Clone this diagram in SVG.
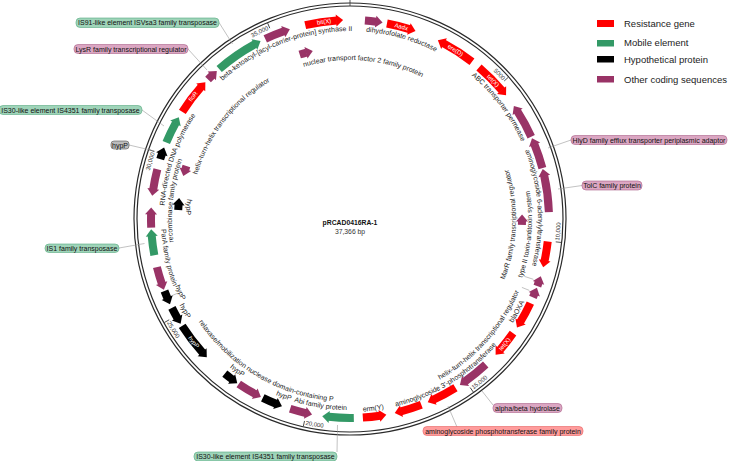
<svg xmlns="http://www.w3.org/2000/svg" width="729" height="461" viewBox="0 0 729 461">
<style>
.bd{fill:none;stroke-width:8}
.r{fill:#ff0000}.bd.r{fill:none;stroke:#ff0000}
.g{fill:#339966}.bd.g{fill:none;stroke:#339966}
.k{fill:#000}.bd.k{fill:none;stroke:#000}
.p{fill:#993366}.bd.p{fill:none;stroke:#993366}
text{font-family:"Liberation Sans",Arial,sans-serif}
.lbl{font-size:7px;fill:#222}
.in{font-size:6px;fill:#fff}
.tk{font-size:6px;fill:#333}
.cb{font-size:7px;fill:#111}
.lg{font-size:9.5px;fill:#222}
.cl{stroke:#999;stroke-width:0.6;fill:none}
.tick{stroke:#333;stroke-width:0.8}
.ring{fill:none;stroke:#2a2a2a;stroke-width:1.2}
.bg{fill:#9fd4b9;stroke:#55aa80;stroke-width:0.6}
.bp{fill:#dba6c2;stroke:#aa6088;stroke-width:0.6}
.br{fill:#ff9c9c;stroke:#e86060;stroke-width:0.6}
.bk{fill:#bdbdbd;stroke:#555;stroke-width:0.6}
</style>
<defs>
<path id="hc" d="M0,-205V-193L7,-199Z"/>
<path id="hw" d="M0,-205V-193L-7,-199Z"/>
<path id="ic" d="M0,-178V-166L7,-172Z"/>
<path id="iw" d="M0,-178V-166L-7,-172Z"/>
<path id="c159" d="M-156.58,-27.61A159,159 0 0 1 156.58,-27.61"/>
<path id="c178" d="M-175.29,-30.91A178,178 0 0 1 175.29,-30.91"/>
<path id="c186" d="M-183.17,-32.30A186,186 0 0 1 183.17,-32.30"/>
<path id="c188" d="M-185.14,-32.65A188,188 0 0 1 185.14,-32.65"/>
<path id="c197" d="M-194.01,-34.21A197,197 0 0 1 194.01,-34.21"/>
<path id="c206" d="M-202.87,-35.77A206,206 0 0 1 202.87,-35.77"/>
<path id="w164" d="M-161.51,28.48A164,164 0 0 0 161.51,28.48"/>
<path id="w166" d="M-163.48,28.83A166,166 0 0 0 163.48,28.83"/>
<path id="w182" d="M-179.23,31.60A182,182 0 0 0 179.23,31.60"/>
<path id="w183" d="M-180.22,31.78A183,183 0 0 0 180.22,31.78"/>
<path id="w184" d="M-181.20,31.95A184,184 0 0 0 181.20,31.95"/>
<path id="w187" d="M-184.16,32.47A187,187 0 0 0 184.16,32.47"/>
<path id="w189" d="M-186.13,32.82A189,189 0 0 0 186.13,32.82"/>
<path id="w191" d="M-188.10,33.17A191,191 0 0 0 188.10,33.17"/>
<path id="w193" d="M-190.07,33.51A193,193 0 0 0 190.07,33.51"/>
<path id="w201" d="M-197.94,34.90A201,201 0 0 0 197.94,34.90"/>
<path id="w210" d="M-207.30,36.55A210.5,210.5 0 0 0 207.30,36.55"/>
</defs>
<rect width="729" height="461" fill="#fff"/>

<g id="backbone" transform="translate(350,219)">
<circle class="ring" r="216"/>
<circle class="ring" r="213"/>
<line class="tick" y1="-213" y2="-219"/>
<g transform="rotate(48.17)"><line class="tick" y1="-207" y2="-212.5"/><text class="tk" text-anchor="end"><textPath href="#c206" startOffset="286.1">5000</textPath></text></g>
<g transform="rotate(96.34)"><line class="tick" y1="-207" y2="-212.5"/></g>
<g transform="rotate(-83.66)"><text class="tk"><textPath href="#w210" startOffset="295.4">10,000</textPath></text></g>
<g transform="rotate(144.52)"><line class="tick" y1="-207" y2="-212.5"/></g>
<g transform="rotate(-35.48)"><text class="tk"><textPath href="#w210" startOffset="295.4">15,000</textPath></text></g>
<g transform="rotate(192.69)"><line class="tick" y1="-207" y2="-212.5"/></g>
<g transform="rotate(12.69)"><text class="tk"><textPath href="#w210" startOffset="295.4">20,000</textPath></text></g>
<g transform="rotate(240.86)"><line class="tick" y1="-207" y2="-212.5"/></g>
<g transform="rotate(60.86)"><text class="tk"><textPath href="#w210" startOffset="295.4">25,000</textPath></text></g>
<g transform="rotate(289.03)"><line class="tick" y1="-207" y2="-212.5"/><text class="tk" text-anchor="end"><textPath href="#c206" startOffset="286.1">30,000</textPath></text></g>
<g transform="rotate(337.2)"><line class="tick" y1="-207" y2="-212.5"/><text class="tk" text-anchor="end"><textPath href="#c206" startOffset="286.1">35,000</textPath></text></g>
</g>

<g id="connectors">
<polyline class="cl" points="219,22.5 232.5,44"/>
<polyline class="cl" points="188,49 207,70"/>
<polyline class="cl" points="142,110 164,126"/>
<polyline class="cl" points="129,145 154.5,151"/>
<polyline class="cl" points="119,248 144.5,243.5"/>
<polyline class="cl" points="337,452 337.5,425"/>
<polyline class="cl" points="493,405 482,391"/>
<polyline class="cl" points="457,427 448,406"/>
<polyline class="cl" points="571,140 548,148"/>
<polyline class="cl" points="582,185.5 558,189"/>
<polyline class="cl" points="524.8,276.5 533.4,279.3"/>
<polyline class="cl" points="521.9,287.4 529.3,290.4"/>
<polyline class="cl" points="172.7,295.3 177.3,293.4"/>
</g>

<g id="features" transform="translate(350,219)">
<g id="f-bitX"><circle class="bd r" r="199" stroke-dasharray="31.95 2000" transform="rotate(257)"/><use href="#hc" class="r" transform="rotate(356)"/><g transform="rotate(352.5)"><text class="in" text-anchor="middle"><textPath href="#c197" startOffset="50%">bit(X)</textPath></text></g></g>
<g id="f-dhfr"><circle class="bd p" r="199" stroke-dasharray="11.46 2000" transform="rotate(-85.7)"/><use href="#hc" class="p" transform="rotate(7.4)"/><g transform="rotate(16)"><text class="lbl" text-anchor="middle"><textPath href="#c188" startOffset="50%">dihydrofolate reductase</textPath></text></g></g>
<g id="f-aadx"><circle class="bd r" r="199" stroke-dasharray="23.27 2000" transform="rotate(-79.3)"/><use href="#hc" class="r" transform="rotate(17.2)"/><g transform="rotate(14.95)"><text class="in" text-anchor="middle"><textPath href="#c197" startOffset="50%">Aadx</textPath></text></g></g>
<g id="f-ereD"><circle class="bd r" r="199" stroke-dasharray="34.04 2000" transform="rotate(-62)"/><use href="#hw" class="r" transform="rotate(28.2)"/><g transform="rotate(32)"><text class="in" text-anchor="middle"><textPath href="#c197" startOffset="50%">ere(D)</textPath></text></g></g>
<g id="f-tetX1"><circle class="bd r" r="199" stroke-dasharray="32.65 2000" transform="rotate(-49.6)"/><use href="#hc" class="r" transform="rotate(49.6)"/><g transform="rotate(46)"><text class="in" text-anchor="middle"><textPath href="#c197" startOffset="50%">tet(X)</textPath></text></g></g>
<g id="f-abc"><circle class="bd p" r="199" stroke-dasharray="29.17 2000" transform="rotate(-32.8)"/><use href="#hw" class="p" transform="rotate(57.4)"/><g transform="rotate(53)"><text class="lbl" text-anchor="middle"><textPath href="#c188" startOffset="50%">ABC transporter permease</textPath></text></g></g>
<g id="f-hlyd"><circle class="bd p" r="199" stroke-dasharray="25.35 2000" transform="rotate(-22.1)"/><use href="#hw" class="p" transform="rotate(68.1)"/></g>
<g id="f-tolc"><circle class="bd p" r="199" stroke-dasharray="37.16 2000" transform="rotate(-12.7)"/><use href="#hw" class="p" transform="rotate(77.5)"/></g>
<g id="f-aadA"><circle class="bd r" r="199" stroke-dasharray="19.80 2000" transform="rotate(6.5)"/><use href="#hc" class="r" transform="rotate(102)"/><g transform="rotate(86.5)"><text class="lbl" text-anchor="middle"><textPath href="#c188" startOffset="50%">aminoglycoside 6-adenylyltransferase</textPath></text></g></g>
<g id="f-marR"><circle class="bd p" r="172" stroke-dasharray="4.11 2000" transform="rotate(0.63)"/><use href="#iw" class="p" transform="rotate(90.83)"/><g transform="rotate(-88)"><text class="lbl" text-anchor="middle"><textPath href="#w166" startOffset="50%">MarR family transcriptional regulator</textPath></text></g></g>
<g id="f-ta"><circle class="bd p" r="199" stroke-dasharray="4.17 2000" transform="rotate(18.5)"/><use href="#hw" class="p" transform="rotate(108.7)"/><g transform="rotate(-85)"><text class="lbl" text-anchor="middle"><textPath href="#w182" startOffset="50%">type II toxin-antitoxin system</textPath></text></g></g>
<g id="f-hth2"><circle class="bd p" r="199" stroke-dasharray="4.17 2000" transform="rotate(22)"/><use href="#hw" class="p" transform="rotate(112.2)"/><g transform="rotate(-48)"><text class="lbl" text-anchor="middle"><textPath href="#w184" startOffset="50%">helix-turn-helix transcriptional regulator</textPath></text></g></g>
<g id="f-bla"><circle class="bd r" r="199" stroke-dasharray="21.53 2000" transform="rotate(25)"/><use href="#hc" class="r" transform="rotate(121)"/><g transform="rotate(-61)"><text class="lbl" text-anchor="middle"><textPath href="#w193" startOffset="50%">blaOXA</textPath></text></g></g>
<g id="f-tetX2"><circle class="bd r" r="199" stroke-dasharray="21.53 2000" transform="rotate(35)"/><use href="#hc" class="r" transform="rotate(131)"/><g transform="rotate(-51)"><text class="in" text-anchor="middle"><textPath href="#w201" startOffset="50%">tet(X)</textPath></text></g></g>
<g id="f-ab"><circle class="bd p" r="199" stroke-dasharray="26.74 2000" transform="rotate(47)"/><use href="#hc" class="p" transform="rotate(144.5)"/></g>
<g id="f-aph"><circle class="bd r" r="199" stroke-dasharray="25.01 2000" transform="rotate(58)"/><use href="#hc" class="r" transform="rotate(155)"/></g>
<g id="f-aph3"><circle class="bd r" r="199" stroke-dasharray="21.53 2000" transform="rotate(69)"/><use href="#hc" class="r" transform="rotate(165)"/><g transform="rotate(-31.5)"><text class="lbl" text-anchor="middle"><textPath href="#w193" startOffset="50%">aminoglycoside 3'-phosphotransferase</textPath></text></g></g>
<g id="f-ermY"><circle class="bd r" r="199" stroke-dasharray="17.37 2000" transform="rotate(81.3)"/><use href="#hw" class="r" transform="rotate(171.5)"/><g transform="rotate(-7)"><text class="lbl" text-anchor="middle"><textPath href="#w193" startOffset="50%">erm(Y)</textPath></text></g></g>
<g id="f-is30b"><circle class="bd g" r="199" stroke-dasharray="25.35 2000" transform="rotate(88.9)"/><use href="#hc" class="g" transform="rotate(186)"/></g>
<g id="f-abi"><circle class="bd p" r="199" stroke-dasharray="16.32 2000" transform="rotate(102.8)"/><use href="#hw" class="p" transform="rotate(193)"/><g transform="rotate(9)"><text class="lbl" text-anchor="middle"><textPath href="#w191" startOffset="50%">Abi family protein</textPath></text></g></g>
<g id="f-hyp1"><circle class="bd k" r="199" stroke-dasharray="14.59 2000" transform="rotate(111.8)"/><use href="#hw" class="k" transform="rotate(202)"/><g transform="rotate(20.5)"><text class="lbl" text-anchor="middle"><textPath href="#w191" startOffset="50%">hypP</textPath></text></g></g>
<g id="f-relax"><circle class="bd p" r="199" stroke-dasharray="19.45 2000" transform="rotate(118.4)"/><use href="#hw" class="p" transform="rotate(208.6)"/><g transform="rotate(30.5)"><text class="lbl" text-anchor="middle"><textPath href="#w183" startOffset="50%">relaxase/mobilization nuclease domain-containing P</textPath></text></g></g>
<g id="f-hyp2"><circle class="bd k" r="199" stroke-dasharray="9.38 2000" transform="rotate(126.3)"/><use href="#hw" class="k" transform="rotate(216.5)"/><g transform="rotate(36.6)"><text class="lbl" text-anchor="middle"><textPath href="#w191" startOffset="50%">hypP</textPath></text></g></g>
<g id="f-hyp3"><circle class="bd k" r="199" stroke-dasharray="33.69 2000" transform="rotate(137.8)"/><use href="#hw" class="k" transform="rotate(228)"/><g transform="rotate(51.75)"><text class="in" text-anchor="middle"><textPath href="#w201" startOffset="50%">hypP</textPath></text></g></g>
<g id="f-hyp4"><circle class="bd k" r="199" stroke-dasharray="11.81 2000" transform="rotate(150.1)"/><use href="#hw" class="k" transform="rotate(240.3)"/><g transform="rotate(60.9)"><text class="lbl" text-anchor="middle"><textPath href="#w191" startOffset="50%">hypP</textPath></text></g></g>
<g id="f-hyp5"><circle class="bd k" r="199" stroke-dasharray="7.99 2000" transform="rotate(156.5)"/><use href="#hw" class="k" transform="rotate(246.7)"/><g transform="rotate(66.6)"><text class="lbl" text-anchor="middle"><textPath href="#w187" startOffset="50%">hypP</textPath></text></g></g>
<g id="f-para"><circle class="bd p" r="199" stroke-dasharray="17.37 2000" transform="rotate(161)"/><use href="#hw" class="p" transform="rotate(251.2)"/><g transform="rotate(78)"><text class="lbl" text-anchor="middle"><textPath href="#w189" startOffset="50%">ParA family protein</textPath></text></g></g>
<g id="f-is1"><circle class="bd g" r="199" stroke-dasharray="19.80 2000" transform="rotate(169.5)"/><use href="#hc" class="g" transform="rotate(265)"/></g>
<g id="f-recomb"><circle class="bd p" r="199" stroke-dasharray="13.89 2000" transform="rotate(177.5)"/><use href="#hc" class="p" transform="rotate(271.3)"/><g transform="rotate(276)"><text class="lbl" text-anchor="middle"><textPath href="#c178" startOffset="50%">recombinase family protein</textPath></text></g></g>
<g id="f-hypi"><circle class="bd k" r="172" stroke-dasharray="5.61 2000" transform="rotate(183)"/><use href="#ic" class="k" transform="rotate(274.67)"/><g transform="rotate(94.2)"><text class="lbl" text-anchor="middle"><textPath href="#w164" startOffset="50%">hypP</textPath></text></g></g>
<g id="f-rna"><circle class="bd p" r="199" stroke-dasharray="20.84 2000" transform="rotate(188.5)"/><use href="#hw" class="p" transform="rotate(278.7)"/><g transform="rotate(289)"><text class="lbl" text-anchor="middle"><textPath href="#c186" startOffset="50%">RNA-directed DNA polymerase</textPath></text></g></g>
<g id="f-hthl"><circle class="bd p" r="172" stroke-dasharray="4.11 2000" transform="rotate(196.63)"/><use href="#iw" class="p" transform="rotate(286.83)"/><g transform="rotate(308)"><text class="lbl" text-anchor="middle"><textPath href="#c159" startOffset="50%">helix-turn-helix transcriptional regulator</textPath></text></g></g>
<g id="f-hyp6"><circle class="bd k" r="199" stroke-dasharray="5.90 2000" transform="rotate(197.5)"/><use href="#hc" class="k" transform="rotate(289)"/></g>
<g id="f-is30l"><circle class="bd g" r="199" stroke-dasharray="21.88 2000" transform="rotate(202.6)"/><use href="#hc" class="g" transform="rotate(298.7)"/></g>
<g id="f-floR"><circle class="bd r" r="199" stroke-dasharray="31.26 2000" transform="rotate(212.6)"/><use href="#hc" class="r" transform="rotate(311.4)"/><g transform="rotate(308)"><text class="in" text-anchor="middle"><textPath href="#c197" startOffset="50%">floR</textPath></text></g></g>
<g id="f-lysR"><circle class="bd p" r="199" stroke-dasharray="5.90 2000" transform="rotate(224.5)"/><use href="#hc" class="p" transform="rotate(316)"/></g>
<g id="f-is91"><circle class="bd g" r="199" stroke-dasharray="43.76 2000" transform="rotate(228.9)"/><use href="#hc" class="g" transform="rotate(331.3)"/></g>
<g id="f-beta"><circle class="bd p" r="199" stroke-dasharray="20.14 2000" transform="rotate(244.8)"/><use href="#hc" class="p" transform="rotate(340.4)"/><g transform="rotate(339)"><text class="lbl" text-anchor="middle"><textPath href="#c188" startOffset="50%">beta-ketoacyl-[acyl-carrier-protein] synthase II</textPath></text></g></g>
<g id="f-ntf2"><circle class="bd p" r="172" stroke-dasharray="7.11 2000" transform="rotate(253)"/><use href="#ic" class="p" transform="rotate(345.17)"/><g transform="rotate(5)"><text class="lbl" text-anchor="middle"><textPath href="#c159" startOffset="50%">nuclear transport factor 2 family protein</textPath></text></g></g>
</g>

<g id="callouts">
<g id="c-is91"><rect class="bg" x="76" y="18" width="143" height="9.5" rx="4"/><text class="cb" x="147.5" y="25.2" text-anchor="middle">IS91-like element ISVsa3 family transposase</text></g>
<g id="c-lysr"><rect class="bp" x="74" y="44.5" width="114" height="9" rx="4"/><text class="cb" x="131" y="51.5" text-anchor="middle">LysR family transcriptional regulator</text></g>
<g id="c-is30l"><rect class="bg" x="-1" y="105.5" width="143" height="9" rx="4"/><text class="cb" x="70.5" y="112.5" text-anchor="middle">IS30-like element IS4351 family transposase</text></g>
<g id="c-hyp"><rect class="bk" x="111" y="141" width="18" height="8" rx="3"/><text class="cb" x="120" y="147.5" text-anchor="middle">hypP</text></g>
<g id="c-is1"><rect class="bg" x="45" y="244" width="74" height="8.5" rx="4"/><text class="cb" x="82" y="250.8" text-anchor="middle">IS1 family transposase</text></g>
<g id="c-is30b"><rect class="bg" x="194" y="452" width="143" height="9" rx="4"/><text class="cb" x="265.5" y="459" text-anchor="middle">IS30-like element IS4351 family transposase</text></g>
<g id="c-ab"><rect class="bp" x="493" y="403.5" width="69" height="9" rx="4"/><text class="cb" x="527.5" y="410.5" text-anchor="middle">alpha/beta hydrolase</text></g>
<g id="c-aph"><rect class="br" x="423" y="426.5" width="160" height="9" rx="4"/><text class="cb" x="503" y="433.5" text-anchor="middle">aminoglycoside phosphotransferase family protein</text></g>
<g id="c-hlyd"><rect class="bp" x="571" y="135.5" width="156" height="9" rx="4"/><text class="cb" x="649" y="142.5" text-anchor="middle">HlyD family efflux transporter periplasmic adaptor</text></g>
<g id="c-tolc"><rect class="bp" x="582" y="181" width="60" height="9" rx="4"/><text class="cb" x="612" y="188" text-anchor="middle">TolC family protein</text></g>
</g>

<g id="title">
<text x="350" y="225" text-anchor="middle" style="font-size:6.8px;font-weight:bold;fill:#111">pRCAD0416RA-1</text>
<text x="350" y="233.5" text-anchor="middle" style="font-size:6.8px;fill:#333">37,366 bp</text>
</g>

<g id="legend">
<rect class="r" x="597" y="20" width="17" height="7"/><text class="lg" x="624" y="26.5">Resistance gene</text>
<rect class="g" x="597" y="40" width="17" height="6.5"/><text class="lg" x="624" y="46">Mobile element</text>
<rect class="k" x="597" y="56" width="17" height="6.5"/><text class="lg" x="624" y="62.8">Hypothetical protein</text>
<rect class="p" x="597" y="76" width="17" height="6.5"/><text class="lg" x="624" y="82.5">Other coding sequences</text>
</g>
</svg>
